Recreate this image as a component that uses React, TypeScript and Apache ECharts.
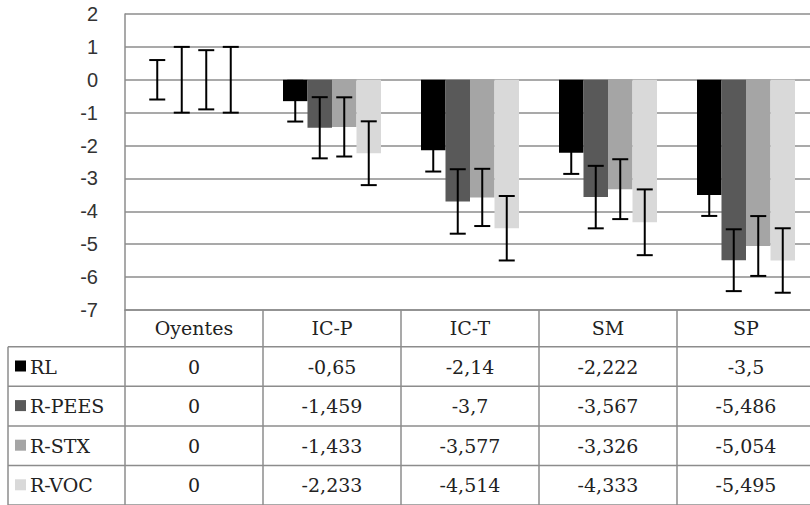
import React, { useEffect, useRef } from "react";
import * as echarts from "echarts";

const categories = ["Oyentes", "IC-P", "IC-T", "SM", "SP"];
const seriesNames = ["RL", "R-PEES", "R-STX", "R-VOC"];
const rl = [0, -0.65, -2.14, -2.222, -3.5];
const rPees = [0, -1.459, -3.7, -3.567, -5.486];
const rStx = [0, -1.433, -3.577, -3.326, -5.054];
const rVoc = [0, -2.233, -4.514, -4.333, -5.495];
const errRl = [0.6, 0.62, 0.65, 0.64, 0.64];
const errPees = [1.0, 0.93, 0.98, 0.95, 0.94];
const errStx = [0.9, 0.9, 0.87, 0.91, 0.91];
const errVoc = [1.0, 0.97, 0.98, 1.0, 0.98];
const yMin = -7;
const yMax = 2;
const yStep = 1;

const values = [rl, rPees, rStx, rVoc];
const errors = [errRl, errPees, errStx, errVoc];
const colors = ["#000000", "#595959", "#a5a5a5", "#d9d9d9"];

const BAR_W = 24.5;
const CAP_W = 16;
const GRID_LEFT = 125;
const GRID_TOP = 14;
const GRID_W = 690;
const GRID_H = 296;
const HEADER_H = 36.7;
const ROW_H = 39.6;
const TABLE_LEFT = 8;
const TABLE_RIGHT = 815;
const LINE_COLOR = "#8c8c8c";
const SERIF = "DejaVu Serif";
const SANS = "Liberation Sans";
const TABLE_FONT = 19;

function fmt(v: number): string {
  return String(v).replace(".", ",");
}

export default function App() {
  const ref = useRef<HTMLDivElement>(null);

  useEffect(() => {
    if (!ref.current) return;
    const chart = echarts.init(ref.current, undefined, { renderer: "svg" });

    const barSeries = seriesNames.map((name, si) => ({
      name,
      type: "bar",
      data: values[si],
      barWidth: BAR_W,
      barGap: "0%",
      itemStyle: { color: colors[si] },
      z: 2,
    }));

    const errSeries = seriesNames.map((name, si) => ({
      name: name + "-err",
      type: "custom",
      z: 5,
      data: categories.map((_, ci) => [ci, values[si][ci], errors[si][ci]]),
      encode: { x: 0, y: 1 },
      renderItem: (params: any, api: any) => {
        const x = api.value(0);
        const v = api.value(1);
        const e = api.value(2);
        const top = api.coord([x, v + e]);
        const bot = api.coord([x, v - e]);
        const cx = top[0] + BAR_W * (si - 1.5);
        const st = { stroke: "#000", lineWidth: 2 };
        return {
          type: "group",
          children: [
            { type: "line", shape: { x1: cx, y1: top[1], x2: cx, y2: bot[1] }, style: st },
            { type: "line", shape: { x1: cx - CAP_W / 2, y1: top[1], x2: cx + CAP_W / 2, y2: top[1] }, style: st },
            { type: "line", shape: { x1: cx - CAP_W / 2, y1: bot[1], x2: cx + CAP_W / 2, y2: bot[1] }, style: st },
          ],
        };
      },
    }));

    const tableBottom = GRID_TOP + GRID_H + HEADER_H + ROW_H * seriesNames.length;

    chart.setOption({
      animation: false,
      grid: { left: GRID_LEFT, top: GRID_TOP, width: GRID_W, height: GRID_H },
      xAxis: {
        type: "category",
        data: categories,
        position: "bottom",
        axisLine: { show: true, onZero: false, lineStyle: { color: LINE_COLOR, width: 1.5 } },
        axisTick: {
          show: true,
          length: tableBottom - (GRID_TOP + GRID_H) + 2,
          lineStyle: { color: LINE_COLOR, width: 1.5 },
        },
        axisLabel: {
          fontFamily: SERIF,
          fontSize: TABLE_FONT,
          color: "#222",
          margin: HEADER_H / 2,
          verticalAlign: "middle",
        },
      },
      yAxis: {
        type: "value",
        min: yMin,
        max: yMax,
        interval: yStep,
        axisLine: { show: true, lineStyle: { color: LINE_COLOR, width: 1.5 } },
        axisTick: { show: false },
        splitLine: { show: true, lineStyle: { color: LINE_COLOR, width: 1.5 } },
        axisLabel: {
          fontFamily: SANS,
          fontSize: 20,
          color: "#333",
          margin: 27,
        },
      },
      series: [...barSeries, ...errSeries],
    });

    const baseY = chart.convertToPixel({ yAxisIndex: 0 }, yMin) as number;
    const headerBottom = baseY + HEADER_H;
    const graphics: any[] = [];
    for (let r = 0; r <= seriesNames.length; r++) {
      const y = headerBottom + r * ROW_H;
      graphics.push({
        type: "line",
        shape: { x1: TABLE_LEFT, y1: y, x2: TABLE_RIGHT, y2: y },
        style: { stroke: LINE_COLOR, lineWidth: 1.5 },
      });
    }
    graphics.push({
      type: "line",
      shape: { x1: TABLE_LEFT, y1: headerBottom, x2: TABLE_LEFT, y2: tableBottom },
      style: { stroke: LINE_COLOR, lineWidth: 1.5 },
    });
    seriesNames.forEach((name, si) => {
      const cy = headerBottom + (si + 0.5) * ROW_H;
      graphics.push({
        type: "rect",
        shape: { x: 15, y: cy - 6, width: 11, height: 11 },
        style: { fill: colors[si] },
      });
      graphics.push({
        type: "text",
        x: 30,
        y: cy,
        style: {
          text: name,
          fontFamily: SERIF,
          fontSize: TABLE_FONT,
          fill: "#222",
          align: "left",
          verticalAlign: "middle",
        },
      });
      categories.forEach((cat, ci) => {
        const cx = chart.convertToPixel({ xAxisIndex: 0 }, cat) as number;
        graphics.push({
          type: "text",
          x: cx,
          y: cy,
          style: {
            text: fmt(values[si][ci]),
            fontFamily: SERIF,
            fontSize: TABLE_FONT,
            fill: "#222",
            align: "center",
            verticalAlign: "middle",
          },
        });
      });
    });

    chart.setOption({ graphic: graphics });

    return () => chart.dispose();
  }, []);

  return (
    <div
      ref={ref}
      style={{ position: "fixed", left: 0, top: 0, width: 815, height: 505, background: "#fff" }}
    />
  );
}
